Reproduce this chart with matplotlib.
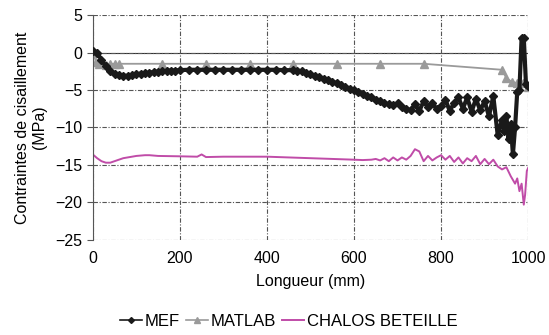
import matplotlib.pyplot as plt
from matplotlib.lines import Line2D

plt.rcParams['font.family'] = ['Liberation Sans', 'DejaVu Sans']

# MEF (éléments finis)
mef_x = [0, 10, 20, 30, 40, 50, 60, 70, 80, 90, 100, 110, 120, 130, 140, 150,
         160, 170, 180, 190, 200, 220, 240, 260, 280, 300, 320, 340, 360, 380,
         400, 420, 440, 460, 470, 480, 490, 500, 510, 520, 530, 540, 550, 560,
         570, 580, 590, 600, 610, 620, 630, 640, 650, 660, 670, 680, 690, 700,
         710, 720, 730, 740, 750, 760, 770, 780, 790, 800, 810, 820, 830, 840,
         850, 860, 870, 880, 890, 900, 910, 920, 930, 940, 945, 950, 955, 960,
         965, 970, 975, 980, 985, 990, 995, 1000]
mef_y = [0.2, 0.0, -1.0, -1.8, -2.4, -2.8, -3.0, -3.1, -3.1, -3.0, -2.9, -2.8,
         -2.75, -2.7, -2.6, -2.55, -2.5, -2.45, -2.4, -2.4, -2.35, -2.3, -2.3,
         -2.3, -2.3, -2.3, -2.3, -2.3, -2.3, -2.3, -2.3, -2.3, -2.35, -2.35,
         -2.4, -2.5, -2.7, -2.9, -3.1, -3.3, -3.5, -3.7, -3.9, -4.1, -4.3, -4.6,
         -4.8, -5.0, -5.3, -5.5, -5.8, -6.0, -6.3, -6.5, -6.8, -6.9, -7.0, -6.8,
         -7.3, -7.5, -7.7, -6.9, -7.8, -6.5, -7.3, -6.7, -7.6, -7.2, -6.3, -7.8,
         -6.7, -6.0, -7.5, -6.0, -7.9, -6.2, -7.7, -6.5, -8.5, -5.8, -11.0,
         -9.0, -10.5, -8.5, -11.5, -9.5, -13.6, -10.0, -5.2, -5.0, 2.0, 2.0,
         -4.2, -4.5]

# MATLAB
matlab_x = [0, 8, 15, 22, 30, 40, 50, 60, 160, 260, 360, 460, 560, 660, 760,
            940, 950, 962, 975, 989, 1000]
matlab_y = [0.0, -1.3, -1.5, -1.2, -1.6, -1.5, -1.5, -1.5, -1.5, -1.5, -1.5,
            -1.5, -1.5, -1.5, -1.5, -2.3, -3.4, -3.9, -4.1, -4.0, -4.6]

# CHALOS BETEILLE
cb_x = [0, 10, 20, 30, 40, 50, 60, 70, 80, 90, 100, 110, 120, 130, 140, 150,
        200, 240, 250, 260, 300, 350, 400, 450, 500, 550, 600, 620, 640, 650,
        660, 670, 680, 690, 700, 710, 720, 730, 740, 750, 760, 770, 780, 790,
        800, 810, 820, 830, 840, 850, 860, 870, 880, 890, 900, 910, 920, 930,
        940, 950, 960, 970, 975, 980, 985, 990, 993, 997, 1000]
cb_y = [-13.6, -14.1, -14.5, -14.7, -14.7, -14.5, -14.3, -14.1, -14.0, -13.9,
        -13.8, -13.75, -13.7, -13.7, -13.75, -13.8, -13.85, -13.9, -13.6,
        -13.95, -13.9, -13.9, -13.9, -14.0, -14.1, -14.2, -14.3, -14.35,
        -14.3, -14.2, -14.4, -14.1, -14.5, -14.0, -14.4, -14.0, -14.3, -13.8,
        -12.9, -13.2, -14.5, -13.8, -14.4, -14.0, -13.7, -14.3, -13.8, -14.6,
        -14.0, -14.8, -14.1, -14.5, -13.8, -14.9, -14.2, -14.9, -14.3, -15.2,
        -15.6, -15.3, -16.5, -17.5, -16.8, -18.5, -17.5, -20.3, -19.0, -15.8,
        -15.4]

c_mef = '#1a1a1a'
c_matlab = '#9a9a9a'
c_cb = '#c04ca8'

fig = plt.figure(figsize=(5.49, 3.35), dpi=100)
ax = fig.add_axes([0.169, 0.284, 0.793, 0.671])

ax.axhline(0, color='#333333', lw=0.8, zorder=1)
ax.plot(mef_x, mef_y, color=c_mef, marker='D', markersize=4.5, lw=3,
        zorder=3)
ax.plot(matlab_x, matlab_y, color=c_matlab, marker='^', markersize=6, lw=1.3,
        zorder=2)
ax.plot(cb_x, cb_y, color=c_cb, lw=1.4, zorder=2)

ax.set_xlim(0, 1000)
ax.set_ylim(-25, 5)
ax.set_xticks([0, 200, 400, 600, 800, 1000])
ax.set_yticks([5, 0, -5, -10, -15, -20, -25])
ax.grid(True, color='#555555', linestyle=(0, (4, 1.5, 1, 1.5)), lw=0.8)
for s in ['top', 'right', 'bottom']:
    ax.spines[s].set_visible(False)
ax.spines['left'].set_color('#555555')
ax.tick_params(axis='x', length=0, labelsize=11.5, pad=8)
ax.tick_params(axis='y', length=4, color='#555555', labelsize=11.5)

ax.set_xlabel('Longueur (mm)', fontsize=11.5, labelpad=6)
ax.set_ylabel('Contraintes de cisaillement\n(MPa)', fontsize=11.5, labelpad=6)

handles = [
    Line2D([], [], color=c_mef, marker='D', markersize=3, lw=1.2),
    Line2D([], [], color=c_matlab, marker='^', markersize=4, lw=1.2),
    Line2D([], [], color=c_cb, lw=1.4),
]
ax.legend(handles, ['MEF', 'MATLAB', 'CHALOS BETEILLE'], loc='upper center',
          bbox_to_anchor=(0.45, -0.30), ncol=3, frameon=False, fontsize=12,
          handlelength=1.3, handletextpad=0.15, columnspacing=0.4,
          borderaxespad=0)

fig.savefig('out.png', dpi=100)
